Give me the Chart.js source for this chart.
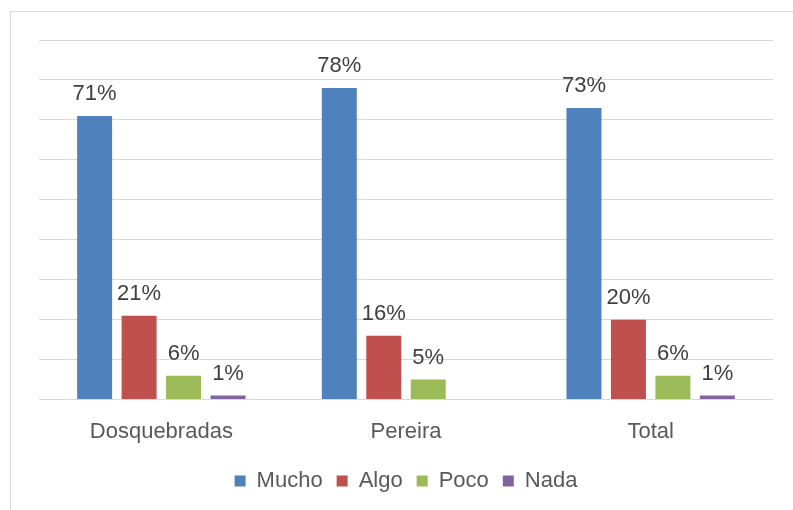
<!DOCTYPE html>
<html>
<head>
<meta charset="utf-8">
<script src="https://cdn.jsdelivr.net/npm/chart.js@4/dist/chart.umd.min.js"></script>
<style>
  html, body { margin: 0; padding: 0; background: #fff; overflow: hidden; }
  #wrap { position: relative; width: 793px; height: 510px; }
  #frame { position: absolute; left: 10px; top: 11px; width: 820px; height: 540px; border: 1px solid #d9d9d9; }
  canvas { position: absolute; left: 0; top: 0; }
</style>
</head>
<body>
<div id="wrap">
  <div id="frame"></div>
  <canvas id="chart" width="793" height="510"></canvas>
</div>
<script>
// Categorías y series (porcentajes)
const categories = ['Dosquebradas', 'Pereira', 'Total'];
const mucho = [71, 78, 73];
const algo = [21, 16, 20];
const poco = [6, 5, 6];
const nada = [1, null, 1];

const seriesNames = ['Mucho', 'Algo', 'Poco', 'Nada'];
const seriesColors = ['#4f81bd', '#c0504d', '#9bbb59', '#8064a2'];
const FONT = '"Liberation Sans", Arial, sans-serif';

// Etiquetas de valor encima de cada barra
const valueLabels = {
    id: 'valueLabels',
    afterDatasetsDraw(chart) {
        const ctx = chart.ctx;
        ctx.save();
        ctx.font = '22px ' + FONT;
        ctx.fillStyle = '#404040';
        ctx.textAlign = 'center';
        ctx.textBaseline = 'alphabetic';
        chart.data.datasets.forEach((ds, i) => {
            const meta = chart.getDatasetMeta(i);
            meta.data.forEach((bar, j) => {
                const v = ds.data[j];
                if (v === null || v === undefined) return;
                ctx.fillText(v + '%', bar.x, bar.y - 16);
            });
        });
        ctx.restore();
    }
};

const values = [mucho, algo, poco, nada];
const ctx = document.getElementById('chart').getContext('2d');
new Chart(ctx, {
    type: 'bar',
    data: {
        labels: categories,
        datasets: seriesNames.map((name, i) => ({
            label: name,
            data: values[i],
            backgroundColor: seriesColors[i],
            borderWidth: 0,
            barPercentage: 0.787,
            categoryPercentage: 0.727
        }))
    },
    options: {
        responsive: false,
        animation: false,
        layout: { padding: { left: 39, right: 20, top: 40, bottom: 8 } },
        scales: {
            x: {
                grid: { display: false },
                border: { display: false },
                ticks: { color: '#595959', font: { size: 22, family: FONT }, padding: 11 }
            },
            y: {
                min: 0,
                max: 90,
                ticks: { display: false, stepSize: 10 },
                grid: { color: '#d9d9d9', lineWidth: 1, drawTicks: false },
                border: { display: false }
            }
        },
        plugins: {
            legend: {
                position: 'bottom',
                labels: {
                    color: '#595959',
                    font: { size: 22, family: FONT },
                    boxWidth: 11,
                    boxHeight: 11,
                    padding: 14
                }
            },
            tooltip: { enabled: false }
        }
    },
    plugins: [valueLabels]
});
</script>
</body>
</html>
